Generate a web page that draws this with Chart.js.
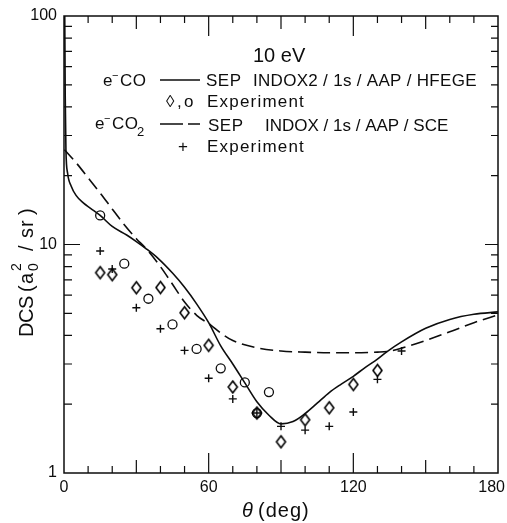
<!DOCTYPE html>
<html><head><meta charset="utf-8">
<script src="https://cdn.jsdelivr.net/npm/chart.js@4.4.1/dist/chart.umd.min.js"></script>
<style>html,body{margin:0;padding:0;background:#fff;overflow:hidden}canvas{display:block}</style>
</head><body>
<canvas id="c" width="507" height="523"></canvas>
<script>
// ---- data ----
const coTheoryAngle = [0.15,0.5,0.8,1.5,3,5,8,11,15,20,26,30,34,39,45,50,55,60,65,70,75,80,85,90,95,100,105,110,115,120,125,130,134,140,150,160,170,180];
const coTheoryDCS   = [200,45,26,20.5,18,16.4,15.2,14.4,13.4,12,11,10.3,9.6,8.7,7.5,6.5,5.5,4.55,3.6,3.0,2.48,2.05,1.79,1.64,1.68,1.82,2.02,2.25,2.45,2.65,2.9,3.15,3.4,3.75,4.3,4.7,4.95,5.07];
const co2TheoryAngle = [0.2,5,10,15,20,25,30,34,40,45,50,55,61,65,70,80,90,100,110,120,130,134,140,150,160,170,180];
const co2TheoryDCS   = [26,22.8,19.6,16.8,14.3,12.2,10.6,9.6,8.0,6.7,5.6,4.9,4.43,4.1,3.8,3.53,3.42,3.38,3.36,3.36,3.38,3.4,3.52,3.8,4.15,4.55,4.92];
const coDiamondAngle = [15,20,30,40,50,60,70,80,90,100,110,120,130];
const coDiamondDCS   = [7.53,7.38,6.47,6.48,5.03,3.62,2.38,1.83,1.37,1.71,1.93,2.44,2.81];
const coCircleAngle  = [15,25,35,45,55,65,75,80,85];
const coCircleDCS    = [13.4,8.24,5.79,4.47,3.49,2.87,2.49,1.83,2.26];
const co2PlusAngle   = [15,20,30,40,50,60,70,80,90,100,110,120,130,140];
const co2PlusDCS     = [9.37,7.81,5.29,4.28,3.44,2.60,2.11,1.83,1.60,1.54,1.60,1.85,2.57,3.42];
const xTickLabels = [0,60,120,180];
const yTickLabels = [1,10,100];

const INK = '#0d0d0d';
const FONT = '"Liberation Sans", Arial, sans-serif';
const pts = (xs, ys) => xs.map((v, i) => ({x: v, y: ys[i]}));

function makeDiamond(w, h, lw) {
  const c = document.createElement('canvas');
  c.width = w + 4; c.height = h + 4;
  const g = c.getContext('2d');
  g.strokeStyle = '#000'; g.lineWidth = lw; g.lineJoin = 'miter';
  g.beginPath();
  g.moveTo(c.width / 2, 2); g.lineTo(c.width - 2, c.height / 2);
  g.lineTo(c.width / 2, c.height - 2); g.lineTo(2, c.height / 2);
  g.closePath(); g.stroke();
  return c;
}
const diamondImg = makeDiamond(9, 12, 1.6);

function txt(ctx, s, x, y, size, opts = {}) {
  ctx.save();
  ctx.font = (opts.italic ? 'italic ' : '') + size + 'px ' + FONT;
  ctx.fillStyle = INK;
  ctx.textAlign = opts.align || 'left';
  ctx.textBaseline = opts.baseline || 'alphabetic';
  ctx.letterSpacing = (opts.ls || 0) + 'px';
  ctx.fillText(s, x, y);
  ctx.restore();
}

const frame = {
  id: 'frame',
  beforeDraw(chart) {
    const c = chart.ctx;
    c.save(); c.fillStyle = '#fff'; c.fillRect(0, 0, chart.width, chart.height); c.restore();
  },
  afterDraw(chart) {
    const ctx = chart.ctx, a = chart.chartArea, x = chart.scales.x, y = chart.scales.y;
    ctx.save();
    ctx.strokeStyle = INK; ctx.lineWidth = 1.5;
    ctx.strokeRect(a.left, a.top, a.right - a.left, a.bottom - a.top);
    ctx.lineWidth = 1.2;
    ctx.beginPath();
    for (let d = 10; d < 180; d += 10) {
      const px = x.getPixelForValue(d);
      const len = d % 60 === 0 ? 20 : (d % 30 === 0 ? 13 : 7);
      ctx.moveTo(px, a.bottom); ctx.lineTo(px, a.bottom - len);
      ctx.moveTo(px, a.top); ctx.lineTo(px, a.top + len);
    }
    [1, 10].forEach(dec => {
      for (let m = 2; m <= 9; m++) {
        const py = y.getPixelForValue(m * dec);
        ctx.moveTo(a.left, py); ctx.lineTo(a.left + 8, py);
        ctx.moveTo(a.right, py); ctx.lineTo(a.right - 7, py);
      }
    });
    const p10 = y.getPixelForValue(10);
    ctx.moveTo(a.left, p10); ctx.lineTo(a.left + 16, p10);
    ctx.moveTo(a.right, p10); ctx.lineTo(a.right - 13, p10);
    ctx.stroke();

    // legend lines
    ctx.lineWidth = 1.6;
    ctx.beginPath(); ctx.moveTo(160, 80); ctx.lineTo(200, 80); ctx.stroke();
    ctx.beginPath(); ctx.moveTo(160, 124); ctx.lineTo(183, 124); ctx.moveTo(188, 124); ctx.lineTo(200, 124); ctx.stroke();
    ctx.restore();

    // x tick labels (kept inside the canvas like the reference)
    ctx.save();
    ctx.font = '16px ' + FONT;
    xTickLabels.forEach(v => {
      const s = String(v);
      const w = ctx.measureText(s).width;
      const cx = Math.min(x.getPixelForValue(v), chart.width - 2 - w / 2);
      txt(ctx, s, cx, 492, 16, {align: 'center'});
    });
    ctx.restore();

    // annotation text
    txt(ctx, '10 eV', 253, 62, 20, {ls: 0});
    // line 1
    txt(ctx, 'e', 103, 86, 17);
    txt(ctx, '\u2212', 112, 79, 11);
    txt(ctx, 'CO', 120, 86, 17, {ls: 0.5});
    txt(ctx, 'SEP', 206, 86, 17, {ls: 0.5});
    txt(ctx, 'INDOX2 / 1s / AAP / HFEGE', 253, 86, 17, {ls: 0.3});
    // line 2
    txt(ctx, '\u25CA', 166, 107, 17);
    txt(ctx, ',', 177, 107, 17);
    txt(ctx, 'o', 184, 107, 17);
    txt(ctx, 'Experiment', 207, 107, 17, {ls: 1.2});
    // line 3
    txt(ctx, 'e', 95, 129, 17);
    txt(ctx, '\u2212', 104, 122, 11);
    txt(ctx, 'CO', 112, 129, 17, {ls: 0.5});
    txt(ctx, '2', 137, 136, 13);
    txt(ctx, 'SEP', 208, 131, 17, {ls: 0.5});
    txt(ctx, 'INDOX / 1s / AAP / SCE', 265, 131, 17, {ls: 0});
    // line 4
    txt(ctx, '+', 183, 152, 17, {align: 'center'});
    txt(ctx, 'Experiment', 207, 152, 17, {ls: 1.2});

    // x title
    txt(ctx, '\u03B8', 242, 517, 20, {italic: true});
    txt(ctx, '(deg)', 258, 517, 20, {ls: 1});

    // y title (rotated)
    ctx.save();
    ctx.translate(33, 337);
    ctx.rotate(-Math.PI / 2);
    txt(ctx, 'DCS', 0, 0, 20, {ls: -0.5});
    txt(ctx, '(', 45, 0, 20);
    txt(ctx, 'a', 53, 0, 20);
    txt(ctx, '0', 66, 5, 14);
    txt(ctx, '2', 66, -12, 14);
    txt(ctx, '/', 86, 0, 20);
    txt(ctx, 'sr', 99, 0, 20, {ls: 1});
    txt(ctx, ')', 122, 0, 20);
    ctx.restore();
  }
};

new Chart(document.getElementById('c'), {
  type: 'scatter',
  data: {
    datasets: [
      { label: 'e-CO SEP INDOX2/1s/AAP/HFEGE', data: pts(coTheoryAngle, coTheoryDCS), showLine: true,
        borderColor: INK, borderWidth: 1.6, pointRadius: 0, cubicInterpolationMode: 'monotone', fill: false },
      { label: 'e-CO2 SEP INDOX/1s/AAP/SCE', data: pts(co2TheoryAngle, co2TheoryDCS), showLine: true,
        borderColor: INK, borderWidth: 1.6, borderDash: [13, 6], pointRadius: 0, cubicInterpolationMode: 'monotone', fill: false },
      { label: 'e-CO Experiment (diamonds)', data: pts(coDiamondAngle, coDiamondDCS), showLine: false,
        pointStyle: diamondImg, pointRadius: 6 },
      { label: 'e-CO Experiment (circles)', data: pts(coCircleAngle, coCircleDCS), showLine: false,
        pointStyle: 'circle', pointRadius: 4.5, borderColor: INK, borderWidth: 1.3, backgroundColor: 'rgba(0,0,0,0)' },
      { label: 'e-CO2 Experiment', data: pts(co2PlusAngle, co2PlusDCS), showLine: false,
        pointStyle: 'cross', pointRadius: 4, borderColor: INK, borderWidth: 1.4 }
    ]
  },
  options: {
    responsive: false, animation: false, events: [],
    layout: { padding: { top: 16, right: 9, left: 0, bottom: 0 } },
    plugins: { legend: { display: false }, tooltip: { enabled: false } },
    scales: {
      x: {
        type: 'linear', min: 0, max: 180,
        afterBuildTicks: s => { s.ticks = xTickLabels.map(v => ({ value: v })); },
        grid: { display: false, drawTicks: false }, border: { display: false },
        ticks: { display: false },
        afterFit: s => { s.height = 50; s.paddingLeft = 0; s.paddingRight = 0; }
      },
      y: {
        type: 'logarithmic', min: 1, max: 100,
        afterBuildTicks: s => { s.ticks = yTickLabels.map(v => ({ value: v })); },
        grid: { display: false, drawTicks: false }, border: { display: false },
        ticks: { color: INK, font: { family: FONT, size: 16 }, padding: 7, autoSkip: false, callback: v => String(v) },
        afterFit: s => { s.width = 64; s.paddingTop = 0; s.paddingBottom = 0; }
      }
    }
  },
  plugins: [frame]
});
</script>
</body></html>
